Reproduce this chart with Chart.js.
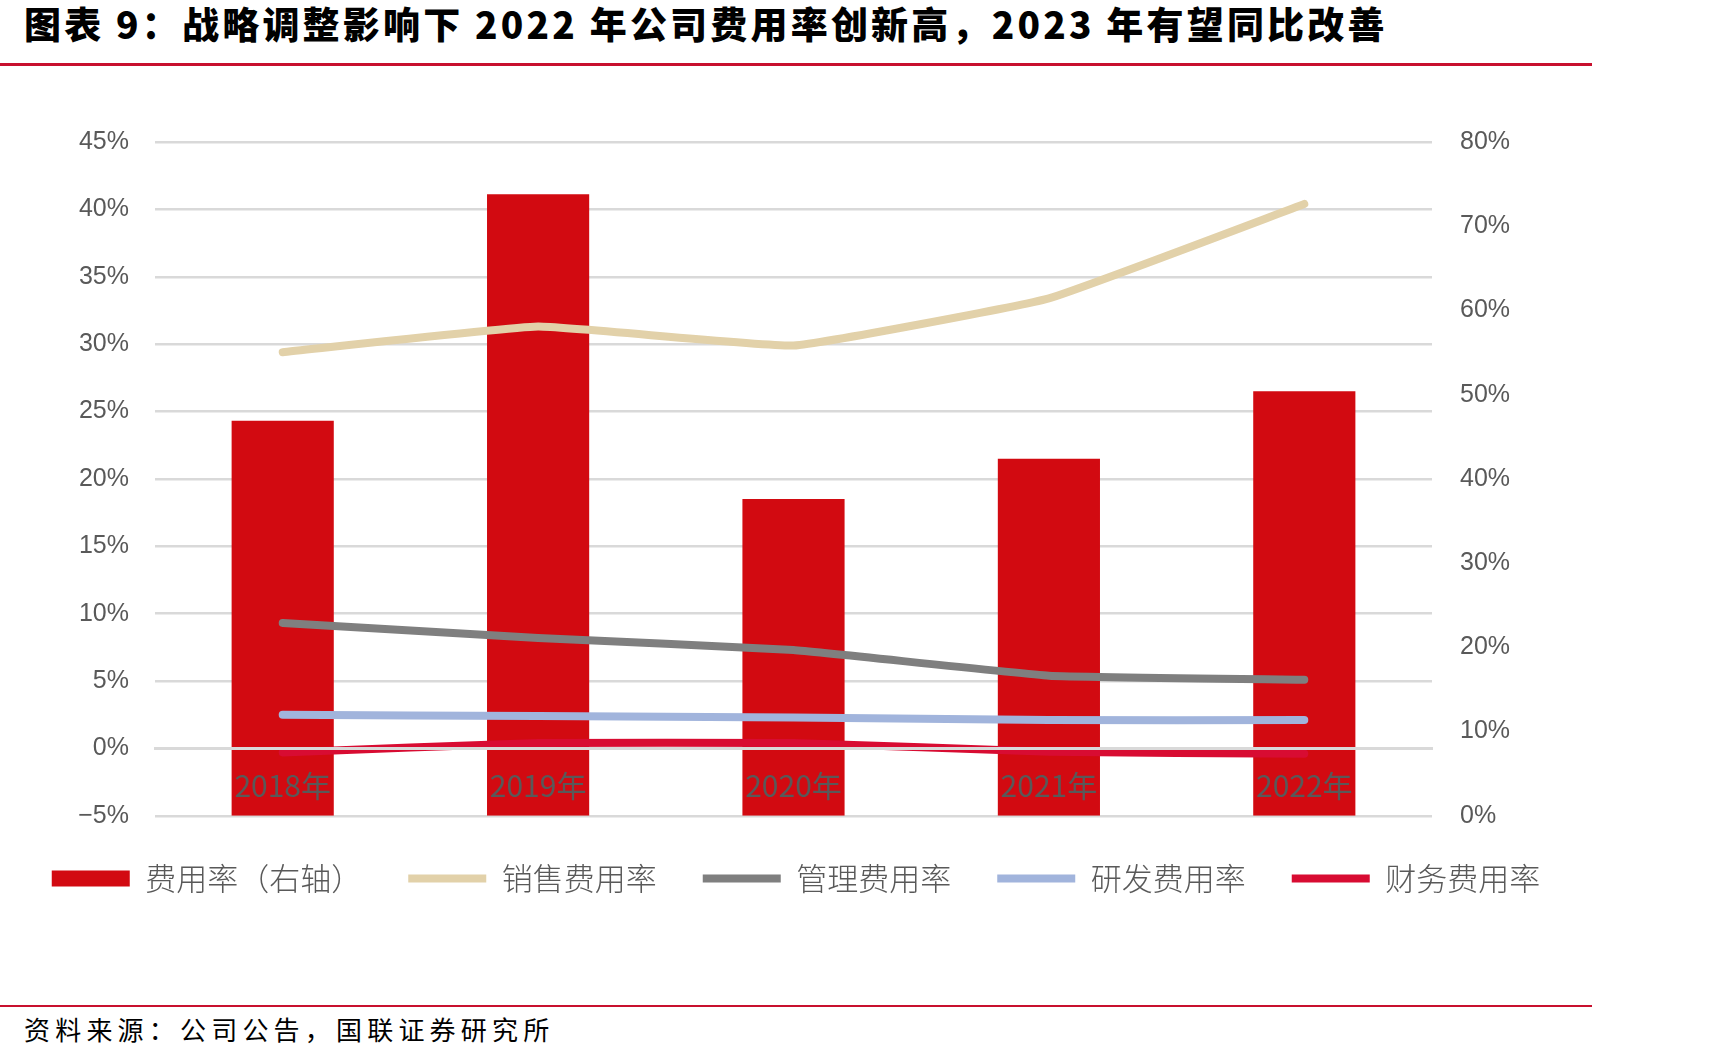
<!DOCTYPE html>
<html>
<head>
<meta charset="utf-8">
<script src="https://cdn.jsdelivr.net/npm/chart.js@4/dist/chart.umd.min.js"></script>
<style>
  body { margin: 0; background: #fff; width: 1725px; height: 1060px; overflow: hidden; position: relative; }
  #title { position: absolute; left: 24px; top: -4px; font: 900 37px "Noto Sans CJK SC", sans-serif; letter-spacing: 3.2px; color: #000; white-space: nowrap; }
  .rule { position: absolute; left: 0; width: 1592px; height: 3px; background: #C8102E; }
  #source { position: absolute; left: 24px; top: 1010px; font: 400 26px "Noto Sans CJK SC", sans-serif; letter-spacing: 5.2px; color: #000; white-space: nowrap; }
  #box { position: absolute; left: 0; top: 70px; width: 1592px; height: 860px; }
</style>
</head>
<body>
<div id="title">图表 9：战略调整影响下 2022 年公司费用率创新高，2023 年有望同比改善</div>
<div class="rule" style="top:63px"></div>
<div id="box"><canvas id="myChart"></canvas></div>
<div class="rule" style="top:1005px;height:2px"></div>
<div id="source">资料来源：公司公告，国联证券研究所</div>
<script>
// --------------- data -----------------------
const years = ['2018年', '2019年', '2020年', '2021年', '2022年'];
const expenseRate = [46.9, 73.8, 37.6, 42.4, 50.4];   // right axis
const sellingRate = [29.4, 31.3, 29.9, 33.4, 40.4];
const adminRate = [9.3, 8.2, 7.3, 5.4, 5.1];
const rdRate = [2.5, 2.4, 2.3, 2.1, 2.1];
const financeRate = [-0.3, 0.4, 0.4, -0.25, -0.4];
const leftAxis = [-5, 45, 5];   // min, max, step
const rightAxis = [0, 80, 10];

const grey = '#595959';

function pct(v) {
    return (v < 0 ? '−' + Math.abs(v) : v) + '%';
}

function lineSet(label, data, color) {
    return {
        type: 'line',
        label: label,
        data: data,
        yAxisID: 'y',
        borderColor: color,
        backgroundColor: color,
        borderWidth: 8,
        borderCapStyle: 'round',
        borderJoinStyle: 'round',
        pointRadius: 0,
        pointStyle: 'line',
        tension: 0.1,
        order: 0
    };
}

// --------------- chart -----------------------
const ctx = document.getElementById('myChart').getContext('2d');
const myChart = new Chart(ctx, {
    type: 'bar',
    data: {
        labels: years,
        datasets: [
            {
                type: 'bar',
                label: '费用率（右轴）',
                data: expenseRate,
                yAxisID: 'y1',
                backgroundColor: '#D20A11',
                borderWidth: 0,
                barPercentage: 0.4,
                categoryPercentage: 1,
                pointStyle: 'rect',
                order: 1
            },
            lineSet('销售费用率', sellingRate, '#E2D1A9'),
            lineSet('管理费用率', adminRate, '#7F7F7F'),
            lineSet('研发费用率', rdRate, '#A1B4DC'),
            lineSet('财务费用率', financeRate, '#D80C32')
        ]
    },
    options: {
        responsive: true,
        maintainAspectRatio: false,
        animation: false,
        layout: { padding: { top: 72, bottom: 26, left: 0, right: 0 } },
        plugins: {
            tooltip: { enabled: false },
            legend: {
                position: 'bottom',
                title: { display: true, text: '', font: { size: 1 }, padding: 0 },
                labels: {
                    usePointStyle: true,
                    pointStyleWidth: 78,
                    boxHeight: 16,
                    padding: 46,
                    color: grey,
                    font: { family: '"Noto Sans CJK SC", sans-serif', size: 31, weight: '300' },
                    sort: (a, b) => a.datasetIndex - b.datasetIndex
                }
            }
        },
        scales: {
            x: {
                type: 'category',
                position: { y: 0 },
                offset: true,
                grid: { display: false },
                border: { display: true, color: '#D9D9D9', width: 3, z: 1 },
                ticks: {
                    z: 1,
                    color: grey,
                    padding: 11,
                    maxRotation: 0,
                    font: { family: '"Liberation Sans Narrow", "Noto Sans CJK SC", sans-serif', size: 30 }
                }
            },
            y: {
                position: 'left',
                min: leftAxis[0],
                max: leftAxis[1],
                afterFit: (s) => { s.width = 155; },
                grid: { color: '#D9D9D9', lineWidth: 2.5, drawTicks: false },
                border: { display: false },
                ticks: {
                    stepSize: leftAxis[2],
                    padding: 26,
                    color: grey,
                    font: { family: '"Liberation Sans", Arial, sans-serif', size: 25 },
                    callback: (v) => pct(v)
                }
            },
            y1: {
                position: 'right',
                min: rightAxis[0],
                max: rightAxis[1],
                afterFit: (s) => { s.width = 160; },
                grid: { display: false, drawTicks: false },
                border: { display: false },
                ticks: {
                    stepSize: rightAxis[2],
                    padding: 28,
                    color: grey,
                    font: { family: '"Liberation Sans", Arial, sans-serif', size: 25 },
                    callback: (v) => pct(v)
                }
            }
        }
    }
});
</script>
</body>
</html>
